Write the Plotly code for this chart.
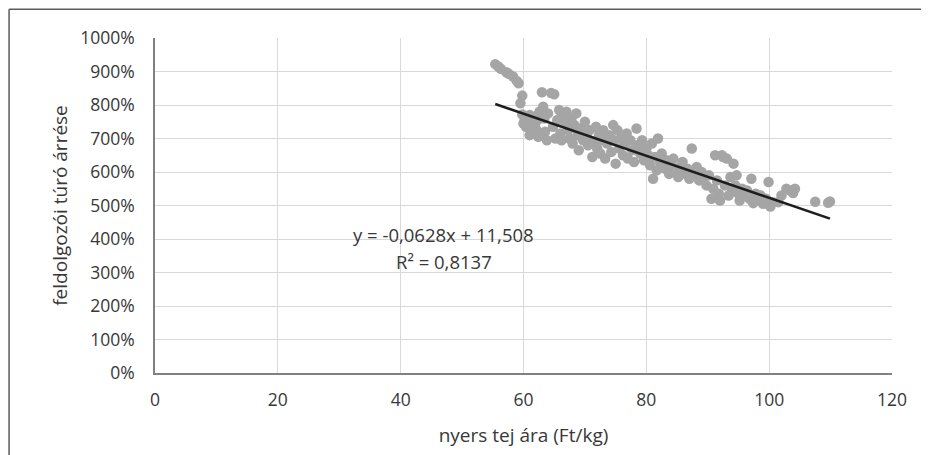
import plotly.graph_objects as go

# raw milk price (Ft/kg)
milk_price = [
    55.4, 55.9, 56.3, 57.2, 57.6, 58.3, 58.9, 59.2,
    59.8, 59.5, 59.8, 60.2, 60.0, 60.6, 60.4, 61.0, 61.2, 61.5, 61.0, 61.8, 62.0, 62.4, 62.6, 62.3, 63.0, 63.2, 63.5, 63.8, 63.4, 64.0,
    64.5, 65.0, 64.8, 65.2, 65.5, 65.8, 66.0, 66.2, 66.5, 66.8, 67.0, 67.3, 67.5, 67.8, 68.0, 68.3, 68.6, 68.8, 69.0, 69.4, 69.7, 70.0, 70.3, 70.5,
    70.8, 71.2, 71.5, 71.8, 72.0, 72.3, 72.5, 72.8, 73.0, 73.3, 73.6, 74.0, 74.3, 74.6, 74.8, 75.0, 75.3, 75.6, 75.9, 76.2,
    76.5, 76.8, 77.0, 77.4, 77.7, 78.0, 78.4, 78.6, 79.0, 79.3, 79.6, 80.0, 80.3, 80.6, 80.9, 81.1, 81.4, 81.7, 81.9, 82.2, 82.5,
    83.0, 83.3, 83.7, 84.0, 84.4, 84.8, 85.2, 85.5, 85.9, 86.3, 86.7, 87.0, 87.4, 87.8, 88.2, 88.6, 89.0, 89.4, 89.8, 90.2, 90.6, 90.9,
    91.2, 91.5, 91.8, 92.0, 92.3, 92.5, 92.8, 93.1, 93.4, 93.7, 94.0, 94.2, 94.5, 94.7, 95.0, 95.2, 95.6, 96.0, 96.4, 96.8, 97.1, 97.4, 97.8, 98.2, 98.6, 99.0, 99.5, 99.9, 100.2, 100.6,
    101.5, 102.0, 102.8, 103.4, 103.9, 104.2, 107.5, 109.6, 109.9,
]

# processor cottage-cheese margin (fraction, 1.0 = 100%)
margin = [
    9.22, 9.15, 9.08, 8.98, 8.93, 8.85, 8.72, 8.65,
    8.28, 8.05, 7.72, 7.60, 7.45, 7.55, 7.35, 7.70, 7.45, 7.25, 7.10, 7.65, 7.30, 7.05, 7.80, 7.55, 8.38, 7.95, 7.20, 6.95, 7.60, 7.75,
    8.36, 8.32, 7.35, 7.00, 7.55, 7.85, 7.15, 6.95, 7.70, 7.45, 7.80, 7.25, 7.00, 7.60, 6.85, 7.40, 7.75, 7.10, 6.65, 7.30, 6.95, 7.50, 7.05, 6.80,
    7.25, 6.45, 6.90, 7.35, 6.70, 7.10, 6.55, 6.95, 7.25, 6.40, 6.85, 7.10, 6.60, 7.40, 6.95, 6.25, 7.25, 6.70, 7.00, 6.50,
    6.85, 7.15, 6.40, 6.95, 6.65, 6.30, 7.30, 6.80, 6.55, 6.95, 6.35, 6.70, 6.50, 6.20, 6.85, 5.80, 6.45, 6.05, 7.00, 6.30, 6.55,
    6.10, 6.35, 5.95, 6.20, 6.40, 6.00, 5.85, 6.15, 6.30, 5.95, 6.10, 5.80, 6.70, 5.95, 6.15, 5.75, 6.00, 5.85, 5.60, 5.90, 5.20, 5.50,
    6.50, 5.75, 5.35, 5.15, 6.50, 6.45, 5.60, 6.40, 5.30, 5.85, 5.45, 6.25, 5.60, 5.90, 5.35, 5.15, 5.50, 5.30, 5.45, 5.20, 5.80, 5.07, 5.35, 5.15, 5.30, 5.05, 5.20, 5.70, 4.97, 5.10,
    5.10, 5.30, 5.50, 5.45, 5.37, 5.50, 5.11, 5.08, 5.12,
]

# linear trend shown on the chart
trend_slope = -0.0628
trend_intercept = 11.508
trend_label = "y = -0,0628x + 11,508"
r2_label = "R² = 0,8137"

x_ticks = [0, 20, 40, 60, 80, 100, 120]
y_ticks = [0, 1, 2, 3, 4, 5, 6, 7, 8, 9, 10]

x_title = "nyers tej ára (Ft/kg)"
y_title = "feldolgozói túró árrése"

FONT = "Open Sans"
TXT = "#383838"

trend_x = [min(milk_price), max(milk_price)]
trend_y = [trend_slope * v + trend_intercept for v in trend_x]

fig = go.Figure()
fig.add_trace(go.Scatter(
    x=milk_price, y=margin, mode="markers",
    marker=dict(size=10.5, color="#a5a5a5", line=dict(width=0)),
    showlegend=False, hoverinfo="x+y",
))
fig.add_trace(go.Scatter(
    x=trend_x, y=trend_y, mode="lines",
    line=dict(color="#1e1e1e", width=2.5),
    showlegend=False,
))

fig.add_annotation(x=47.05, y=4.12, xref="x", yref="y", text=trend_label,
                   showarrow=False, font=dict(family=FONT, size=18.5, color=TXT))
fig.add_annotation(x=47.05, y=3.32, xref="x", yref="y", text=r2_label,
                   showarrow=False, font=dict(family=FONT, size=18.5, color=TXT))

# outer frame (top and left edges of the figure box)
fig.add_shape(type="line", xref="paper", yref="paper",
              x0=-0.198, x1=1.06, y0=1.0856, y1=1.0856,
              line=dict(color="#5a5a5a", width=1.5))
fig.add_shape(type="line", xref="paper", yref="paper",
              x0=-0.198, x1=-0.198, y0=1.0856, y1=-0.25,
              line=dict(color="#5a5a5a", width=1.5))

fig.update_layout(
    width=921, height=447,
    margin=dict(l=147, r=37, t=30, b=82),
    paper_bgcolor="white", plot_bgcolor="white",
    font=dict(family=FONT, size=17, color=TXT),
)
fig.update_xaxes(
    range=[0, 120], tickvals=x_ticks, ticks="",
    showgrid=True, gridcolor="#d9d9d9", gridwidth=1,
    showline=True, linecolor="#808080", linewidth=1.5,
    zeroline=False, mirror=False,
    tickfont=dict(family=FONT, size=17.5, color=TXT),
    ticklabelstandoff=10,
    title=dict(text=x_title, font=dict(family=FONT, size=19, color=TXT), standoff=19),
)
fig.update_yaxes(
    range=[0, 10], tickvals=y_ticks, tickformat=".0%", ticks="",
    showgrid=True, gridcolor="#d9d9d9", gridwidth=1,
    showline=True, linecolor="#808080", linewidth=1.5,
    zeroline=False,
    tickfont=dict(family=FONT, size=17.5, color=TXT),
    ticklabelstandoff=15,
    title=dict(text=y_title, font=dict(family=FONT, size=19, color=TXT), standoff=8),
)

fig.write_html("out.html")
